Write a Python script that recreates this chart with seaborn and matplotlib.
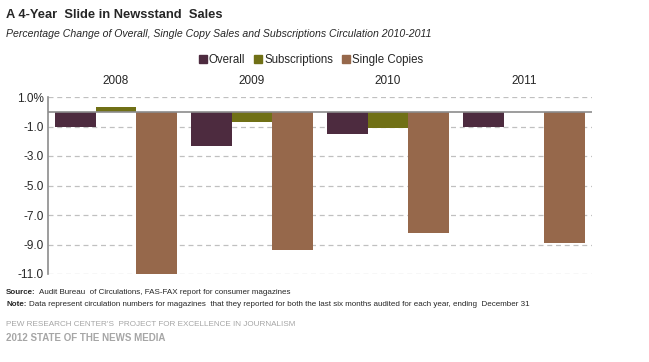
import matplotlib
matplotlib.use("Agg")
import matplotlib.pyplot as plt
import seaborn as sns
import pandas as pd
import numpy as np

years = ["2008", "2009", "2010", "2011"]
series = ["Overall", "Subscriptions", "Single Copies"]
overall = [-1.0, -2.3, -1.5, -1.0]
subscriptions = [0.3, -0.7, -1.1, 0.0]
single_copies = [-11.1, -9.4, -8.2, -8.9]
yticks = [1.0, -1.0, -3.0, -5.0, -7.0, -9.0, -11.0]
colors = ["#4d2b3f", "#707016", "#96684b"]

df = pd.DataFrame({
    "year": years * 3,
    "series": [s for s in series for _ in years],
    "value": overall + subscriptions + single_copies,
})

sns.set_style("white")
plt.rcParams["font.family"] = ["Liberation Sans", "DejaVu Sans"]

fig = plt.figure(figsize=(6.49, 3.62), dpi=100)
ax = fig.add_axes([48 / 649, 1 - 274 / 362, 544 / 649, 177 / 362])

sns.barplot(data=df, x="year", y="value", hue="series", palette=colors,
            width=0.89, gap=0, saturation=1, linewidth=0, ax=ax, legend=False)

ax.set_ylim(-11, 1)
ax.set_xlim(-0.5, 3.5)
ax.set_yticks(yticks)
ax.set_yticklabels(["1.0%"] + [f"{t:.1f}" for t in yticks[1:]], fontsize=8.5)
ax.yaxis.grid(True, linestyle=(0, (4, 3)), color="#c0c0c0", linewidth=0.9)
ax.set_axisbelow(True)
ax.axhline(0, color="#8c8c8c", linewidth=1.2, zorder=3)
ax.xaxis.tick_top()
ax.tick_params(axis="x", length=0, pad=7, labelsize=8.5)
ax.tick_params(axis="y", length=0, pad=3)
ax.set_xlabel("")
ax.set_ylabel("")
for s in ["top", "right", "bottom"]:
    ax.spines[s].set_visible(False)
ax.spines["left"].set_color("#8c8c8c")
ax.spines["left"].set_linewidth(1.2)

handles = [plt.Rectangle((0, 0), 1, 1, color=c) for c in colors]
fig.legend(handles, series, loc="center", bbox_to_anchor=(311 / 649, 1 - 60 / 362),
           ncol=3, frameon=False, fontsize=8.3, handlelength=0.7, handleheight=0.7,
           handletextpad=0.15, columnspacing=0.8)

fig.text(6 / 649, 1 - 15 / 362, "A 4-Year  Slide in Newsstand  Sales",
         fontsize=9.3, fontweight="bold", va="center")
fig.text(6 / 649, 1 - 34 / 362,
         "Percentage Change of Overall, Single Copy Sales and Subscriptions Circulation 2010-2011",
         fontsize=7.6, style="italic", va="center")

# footnotes: bold label followed by regular text
renderer = fig.canvas.get_renderer()
notes = [
    ("Source:", "Audit Bureau  of Circulations, FAS-FAX report for consumer magazines", 292),
    ("Note:", "Data represent circulation numbers for magazines  that they reported for both "
              "the last six months audited for each year, ending  December 31", 304),
]
for label, body, y in notes:
    t = fig.text(6 / 649, 1 - y / 362, label, fontsize=5.8, fontweight="bold", va="center")
    x1 = t.get_window_extent(renderer=renderer).x1
    fig.text((x1 + 3) / 649, 1 - y / 362, body, fontsize=5.8, va="center")

fig.text(6 / 649, 1 - 324 / 362, "PEW RESEARCH CENTER'S  PROJECT FOR EXCELLENCE IN JOURNALISM",
         fontsize=5.9, color="#a6a6a6", va="center")
fig.text(6 / 649, 1 - 338 / 362, "2012 STATE OF THE NEWS MEDIA",
         fontsize=7.0, color="#a6a6a6", fontweight="bold", va="center")

fig.savefig("out.png", dpi=100)
